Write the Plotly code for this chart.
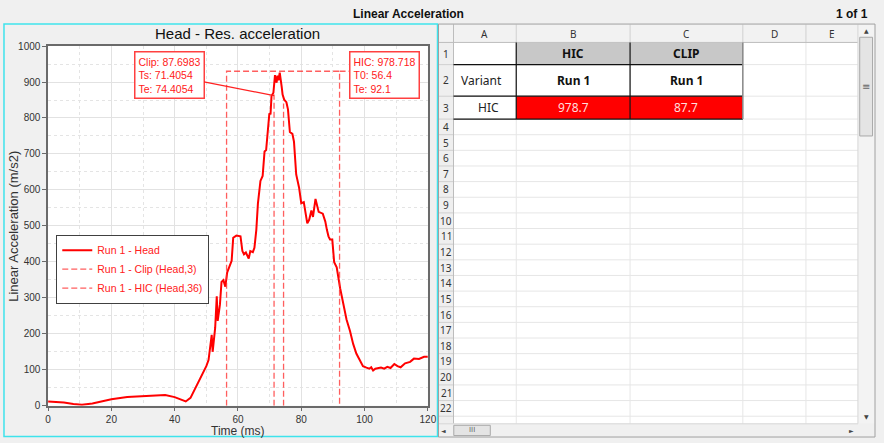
import plotly.graph_objects as go

W, H = 884, 443

# ---------------- data ----------------
time_ms = [0, 2, 5, 8, 10.7, 14, 20, 25, 30, 37, 40, 42, 43.5, 45, 46, 48, 50, 50.7,
           51.2, 51.7, 52.0, 52.8, 53.3, 53.6, 54.3, 54.8, 55.4, 56.0, 56.6, 57.4,
           58.0, 58.5, 59.5, 60.8, 61.4, 61.9, 62.5, 63.4, 63.9, 64.7, 65.2, 65.8,
           66.3, 67.1, 67.8, 68.4, 68.9, 69.4, 69.9, 70.3, 70.6, 71.2, 71.7, 72.2,
           72.5, 72.8, 73.2, 73.8, 74.1, 74.6, 75.3, 75.8, 76.4, 77.2, 77.7, 78.4,
           79.3, 80.0, 80.8, 81.9, 82.5, 83.2, 83.7, 84.5, 85.0, 85.5, 86.8, 87.6,
           88.1, 88.6, 89.1, 89.8, 90.4, 91.2, 92.3, 93.3, 94.3, 95.4, 96.4, 97.4,
           98.5, 99.5, 100.6, 101.5, 102.1, 102.7, 103.4, 104.2, 105.2, 106.2, 107.2,
           108.2, 109.4, 110.4, 111.4, 112.8, 114.4, 115.6, 117.2, 118.8, 120]
accel = [12, 11, 9, 5, 3, 6, 18, 24, 27, 30, 24, 16, 12, 22, 39, 75, 110, 127,
         165, 197, 150, 217, 304, 236, 281, 344, 349, 331, 371, 390,
         403, 467, 473, 471, 430, 421, 426, 409, 430, 427, 439, 489,
         562, 625, 639, 707, 711, 761, 811, 812, 861, 870, 919, 898,
         918, 905, 926, 888, 865, 851, 844, 824, 761, 756, 734, 643,
         607, 563, 566, 507, 517, 543, 525, 575, 557, 539, 534, 512,
         489, 471, 462, 462, 399, 385, 326, 281, 240, 208, 172, 145,
         125, 110, 106, 103, 107, 98, 103, 104, 106, 103, 108,
         105, 116, 110, 107, 118, 122, 131, 130, 136, 136]

clip_value = 87.6983
clip_ts, clip_te = 71.4054, 74.4054
clip_tops = [865, 840]
hic_value = 978.718
hic_t0, hic_te = 56.4, 92.1
hic_top = 930
hic_label_t = 95.5

x_ticks = [0, 20, 40, 60, 80, 100, 120]
y_ticks = [0, 100, 200, 300, 400, 500, 600, 700, 800, 900, 1000]

sheet_cols = ["A", "B", "C", "D", "E"]
sheet_rows = list(range(1, 23))
sheet_header = ["", "HIC", "CLIP"]
sheet_variant = ["Variant", "Run 1", "Run 1"]
sheet_result = ["HIC", f"{hic_value:.1f}", f"{clip_value:.1f}"]

# ---------------- helpers (pixel -> paper) ----------------
def X(px):
    return px / W

def Y(py):
    return 1 - py / H

shapes = []
annots = []

def rect(x0, y0, x1, y1, fill=None, line=None, lw=1, layer="above"):
    shapes.append(dict(type="rect", xref="paper", yref="paper",
                       x0=X(x0), x1=X(x1), y0=Y(y1), y1=Y(y0),
                       fillcolor=fill if fill else "rgba(0,0,0,0)",
                       line=dict(color=line if line else "rgba(0,0,0,0)", width=lw if line else 0),
                       layer=layer))

def seg(x0, y0, x1, y1, color, lw=1, dash=None):
    d = dict(type="line", xref="paper", yref="paper",
             x0=X(x0), x1=X(x1), y0=Y(y0), y1=Y(y1),
             line=dict(color=color, width=lw))
    if dash:
        d["line"]["dash"] = dash
    shapes.append(d)

def text(px, py, s, size=12, color="#000", bold=False, xanchor="center",
         family="Liberation Sans, Arial, sans-serif", yanchor="middle", angle=0):
    annots.append(dict(xref="paper", yref="paper", x=X(px), y=Y(py),
                       text=f"<b>{s}</b>" if bold else s, showarrow=False,
                       xanchor=xanchor, yanchor=yanchor, textangle=angle,
                       font=dict(size=size, color=color, family=family)))

# ---------------- chart ----------------
fig = go.Figure()
RED = "#ff0000"
DRED = "rgba(255,40,40,0.75)"
fig.add_trace(go.Scatter(x=time_ms, y=accel, mode="lines", name="Run 1 - Head",
                         line=dict(color=RED, width=2)))
fig.add_trace(go.Scatter(x=[clip_ts, clip_ts, None, clip_te, clip_te],
                         y=[0, clip_tops[0], None, 0, clip_tops[1]],
                         mode="lines", name="Run 1 - Clip (Head,3)",
                         line=dict(color=DRED, width=1.3, dash="6px,3px")))
fig.add_trace(go.Scatter(x=[hic_t0, hic_t0, hic_te, hic_te, None, hic_te, hic_label_t],
                         y=[0, hic_top, hic_top, 0, None, hic_top, hic_top],
                         mode="lines", name="Run 1 - HIC (Head,36)",
                         line=dict(color=DRED, width=1.3, dash="6px,3px")))

ann_font = dict(size=10.5, color="#ff2020", family="Liberation Sans, Arial, sans-serif")
annots.append(dict(xref="x", yref="y", x=clip_ts, y=clip_tops[0] - 3,
                   axref="x", ayref="y", ax=38.3, ay=919.6,
                   text=f"Clip: {clip_value}<br>Ts: {clip_ts}<br>Te: {clip_te}",
                   showarrow=True, arrowhead=0, arrowwidth=1.2, arrowcolor="#ff2020",
                   align="left", bgcolor="white", bordercolor="#ff4040",
                   borderwidth=1.5, borderpad=3, font=ann_font))
annots.append(dict(xref="x", yref="y", x=106.2, y=919.6,
                   text=f"HIC: {hic_value}<br>T0: {hic_t0}<br>Te: {hic_te}",
                   showarrow=False, xanchor="center", yanchor="middle",
                   align="left", bgcolor="white", bordercolor="#ff4040",
                   borderwidth=1.5, borderpad=3, font=ann_font))

def mids(v):
    return [(a + b) / 2 for a, b in zip(v[:-1], v[1:])]

axis_common = dict(showgrid=True, gridcolor="#e2e2e2", gridwidth=1, zeroline=False,
                   showline=True, linecolor="#6a6a6a", linewidth=1.5, mirror=True,
                   ticks="outside", ticklen=4, tickcolor="#6a6a6a",
                   tickfont=dict(size=10, color="#333", family="Liberation Sans, Arial, sans-serif"))

fig.update_layout(
    xaxis=dict(domain=[X(45.7), X(430.7)], range=[0, 120], tickmode="array",
               tickvals=x_ticks, ticktext=[str(v) for v in x_ticks],
               minor=dict(tickmode="array", tickvals=mids(x_ticks), showgrid=True,
                          gridcolor="#e4e4e4", griddash="dot", ticks=""),
               **axis_common),
    yaxis=dict(domain=[Y(410), Y(42)], range=[0, 1000], tickmode="array",
               tickvals=y_ticks, ticktext=[str(v) for v in y_ticks],
               minor=dict(tickmode="array", tickvals=mids(y_ticks), showgrid=True,
                          gridcolor="#e4e4e4", griddash="dot", ticks=""),
               **axis_common),
)

# chart panel texts
text(238, 29.5, "Head - Res. acceleration", size=15, color="#111")
text(238, 436, "Time (ms)", size=12, color="#333")
text(11, 226, "Linear Acceleration (m/s2)", size=13, color="#333", angle=-90)

# window header
text(411.5, 9, "Linear Acceleration", size=12, bold=True, color="#111")
text(879, 9, "1 of 1", size=12, bold=True, color="#111", xanchor="right")

# panel border (cyan)
rect(1, 19.5, 440.5, 441.5, line="#3fe3ec", lw=1.5)

# ---------------- spreadsheet ----------------
col_edges = [456.7, 520.3, 635.7, 750, 814, 866.7]
row_edges = [38.3, 61, 93.3, 116.7] + [116.7 + 16 * k for k in range(1, 20)]
SX0, SX1, SY0, SY1 = 441.5, 866.7, 20, 428.5
SHEET_FONT = "Noto Sans, Open Sans, sans-serif"

# cells background
rect(col_edges[0], row_edges[0], col_edges[-1], SY1, fill="white", layer="below")
# header row & row-number column
rect(SX0, SY0, col_edges[-1], row_edges[0], fill="#f2f2f2", layer="below")
rect(SX0, row_edges[0], col_edges[0], SY1, fill="#efefef", layer="below")

# gridlines
for xe in col_edges[1:-1]:
    seg(xe, row_edges[0], xe, SY1, "#e6e6e6", 1)
rows_all = row_edges + [row_edges[-1] + 16]
for ye in rows_all[1:]:
    if ye < SY1:
        seg(col_edges[0], ye, col_edges[-1], ye, "#e6e6e6", 1)
        seg(SX0, ye, col_edges[0], ye, "#d0d0d0", 1)
for xe in col_edges[:-1]:
    seg(xe, SY0, xe, row_edges[0], "#d0d0d0", 1)
seg(SX0, row_edges[0], col_edges[-1], row_edges[0], "#bdbdbd", 1)
seg(col_edges[0], SY0, col_edges[0], SY1, "#bdbdbd", 1)

# column letters
for i, c in enumerate(sheet_cols):
    text((col_edges[i] + col_edges[i + 1]) / 2, 29.5, c, size=10, color="#333",
         family=SHEET_FONT)
# row numbers
for i, r in enumerate(sheet_rows):
    y0, y1 = rows_all[i], rows_all[i + 1]
    text(449.2, (y0 + y1) / 2, str(r), size=10, color="#333", family=SHEET_FONT)

# table fills
for j in (1, 2):
    rect(col_edges[j], row_edges[0], col_edges[j + 1], row_edges[1], fill="#c8c8c8")
    rect(col_edges[j], row_edges[2], col_edges[j + 1], row_edges[3], fill="#ff0000")

# table borders
for ye in row_edges[1:4]:
    seg(col_edges[0], ye, col_edges[3], ye, "#111", 1.2)
for xe in col_edges[1:3]:
    seg(xe, row_edges[0], xe, row_edges[3], "#111", 1.2)
seg(col_edges[3], row_edges[0], col_edges[3], row_edges[3], "#888", 1.5)

# table texts
rc = [(row_edges[k] + row_edges[k + 1]) / 2 for k in range(3)]
for j in (1, 2):
    cx = (col_edges[j] + col_edges[j + 1]) / 2
    text(cx, rc[0], sheet_header[j], size=12, bold=True, color="#111", family=SHEET_FONT)
    text(cx, rc[1], sheet_variant[j], size=12, bold=True, color="#111", family=SHEET_FONT)
    text(cx, rc[2], sheet_result[j], size=12, color="#ffdede", family=SHEET_FONT)
text(462, rc[1], sheet_variant[0], size=12, color="#222", xanchor="left", family=SHEET_FONT)
text(492, rc[2], sheet_result[0], size=12, color="#222", family=SHEET_FONT)

# vertical scrollbar
rect(866.7, SY0, 884, SY1, fill="#f3f3f3")
seg(866.7, SY0, 866.7, SY1, "#d6d6d6", 1)
rect(868.5, 33, 881.5, 134, fill="#e4e4e4", line="#a9a9a9", lw=1)
text(875, 83, "≡", size=10, color="#666", family="DejaVu Sans")
text(875, 26.5, "▲", size=6, color="#444", family="DejaVu Sans")
text(875, 420.5, "▼", size=6, color="#444", family="DejaVu Sans")
# horizontal scrollbar
rect(SX0, SY1, 884, 442, fill="#f0f0f0")
seg(SX0, SY1, 866.7, SY1, "#d6d6d6", 1)
rect(457, 430, 494, 440.5, fill="#e4e4e4", line="#a9a9a9", lw=1)
text(475.5, 435.2, "III", size=7, color="#666", family="DejaVu Sans")
text(447, 435.2, "◄", size=6, color="#444", family="DejaVu Sans")
text(860, 435.2, "►", size=6, color="#444", family="DejaVu Sans")
# sheet outer border
rect(441.5, 19.5, 884, 442, line="#a0a0a0", lw=1)

fig.update_layout(
    width=W, height=H, autosize=False,
    margin=dict(l=0, r=0, t=0, b=0, pad=0),
    paper_bgcolor="#f0f0f0", plot_bgcolor="white",
    shapes=shapes, annotations=annots,
    showlegend=True,
    legend=dict(x=X(54), y=Y(235), xanchor="left", yanchor="top",
                bgcolor="white", bordercolor="#404040", borderwidth=1,
                font=dict(size=10.5, color="#ff2020", family="Liberation Sans, Arial, sans-serif"),
                tracegroupgap=0, itemwidth=30),
)

fig.write_html("out.html")
